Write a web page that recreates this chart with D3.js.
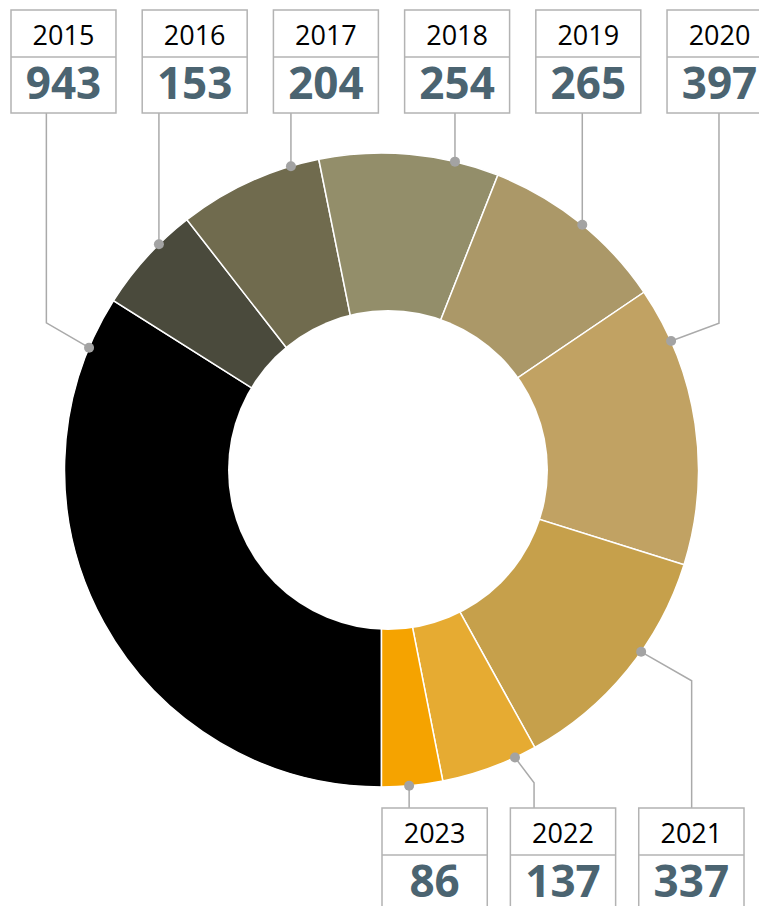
<!DOCTYPE html>
<html lang="en">
<head>
<meta charset="utf-8" />
<title>Donut by year</title>
<style>
  body { margin: 0; background: #fff; }
  svg { display: block; font-family: "Open Sans", "Noto Sans", sans-serif; }
</style>
</head>
<body>
<script src="https://d3js.org/d3.v7.min.js"></script>
<script>
  const width = 759;
  const height = 906;

  // data
  const years = ["2015", "2016", "2017", "2018", "2019", "2020", "2021", "2022", "2023"];
  const values = [943, 153, 204, 254, 265, 397, 337, 137, 86];
  const colors = ["#000000", "#4a4a3c", "#706b4e", "#938e6a", "#ab9868", "#c1a263", "#c6a04b", "#e6ab32", "#f5a300"];
  // where the leader line touches the ring (degrees, clockwise from top)
  const anchorDeg = [292.7, 315.4, 343.4, 13.4, 39.3, 66, 125, 155.1, 175];
  // elbow of bent leaders (angle, radius), null = straight vertical
  const elbowDeg = [293.7, null, null, null, null, 66.5, 124.2, 154, null];
  const elbowR = [366, null, null, null, null, 368, 375, 348, null];
  const topYears = ["2015", "2016", "2017", "2018", "2019", "2020"];
  const bottomYears = ["2023", "2022", "2021"];

  const cx = 381.5, cy = 470;
  const outerR = 317;
  // the hole sits a little right of the ring centre in the original
  const holeX = 388, holeR = 160;

  const svg = d3.select("body")
            .append("svg")
            .attr("width", width)
            .attr("height", height);

  const dataset = years.map((y, i) => ({
    year: y, value: values[i], color: colors[i],
    anchor: anchorDeg[i], elbowDeg: elbowDeg[i], elbowR: elbowR[i]
  }));

  const pie = d3.pie()
              .value(d => d.value)
              .sort(null)
              .startAngle(Math.PI)
              .endAngle(3 * Math.PI);

  const arc = d3.arc()
              .innerRadius(0)
              .outerRadius(outerR);

  const ring = svg.append("g")
              .attr("transform", "translate(" + cx + "," + cy + ")");

  ring.selectAll("path")
      .data(pie(dataset))
      .enter()
      .append("path")
      .attr("d", arc)
      .style("fill", d => d.data.color)
      .style("stroke", "#fff")
      .style("stroke-width", 1.5);

  // hole
  svg.append("circle")
      .attr("cx", holeX)
      .attr("cy", cy)
      .attr("r", holeR)
      .style("fill", "#fff");

  // label boxes
  const topX = d3.scaleBand()
                .domain(topYears)
                .range([11, 772])
                .paddingInner(0.2);
  const bottomX = d3.scaleBand()
                .domain(bottomYears)
                .range([382, 744])
                .paddingInner(0.18);

  const boxH = 103, headH = 47;
  const topY = 10, bottomY = 808;

  function polar(deg, r) {
    const a = deg * Math.PI / 180;
    return [cx + r * Math.sin(a), cy - r * Math.cos(a)];
  }

  //leader lines
  const leaders = svg.append("g");
  dataset.forEach(d => {
    const isTop = topYears.includes(d.year);
    const dot = polar(d.anchor, outerR);
    const pts = [dot];
    let lineX = dot[0];
    if (d.elbowR) {
      const e = polar(d.elbowDeg, d.elbowR);
      pts.push(e);
      lineX = e[0];
    }
    pts.push([lineX, isTop ? topY + boxH : bottomY]);
    leaders.append("path")
        .attr("d", d3.line()(pts))
        .style("fill", "none")
        .style("stroke", "#aaaaaa")
        .style("stroke-width", 1.5);
    leaders.append("circle")
        .attr("cx", dot[0])
        .attr("cy", dot[1])
        .attr("r", 5)
        .style("fill", "#a3a3a3");
  });

  function drawBoxes(list, scale, y0) {
    const g = svg.append("g")
        .selectAll("g")
        .data(dataset.filter(d => list.includes(d.year)))
        .enter()
        .append("g")
        .attr("transform", d => "translate(" + scale(d.year) + "," + y0 + ")");

    g.append("rect")
        .attr("width", scale.bandwidth())
        .attr("height", boxH)
        .style("fill", "#fff")
        .style("stroke", "#b3b3b3")
        .style("stroke-width", 1.5);

    g.append("line")
        .attr("x1", 0)
        .attr("x2", scale.bandwidth())
        .attr("y1", headH)
        .attr("y2", headH)
        .style("stroke", "#b3b3b3")
        .style("stroke-width", 1.5);

    g.append("text")
        .attr("x", scale.bandwidth() / 2)
        .attr("y", 35)
        .attr("text-anchor", "middle")
        .style("font-size", "27px")
        .style("font-weight", 500)
        .style("fill", "#000")
        .text(d => d.year);

    g.append("text")
        .attr("x", scale.bandwidth() / 2)
        .attr("y", 89)
        .attr("text-anchor", "middle")
        .style("font-size", "44px")
        .style("font-weight", "bold")
        .style("fill", "#4b6471")
        .text(d => d.value);
  }

  drawBoxes(topYears, topX, topY);
  drawBoxes(bottomYears, bottomX, bottomY);
</script>
</body>
</html>
